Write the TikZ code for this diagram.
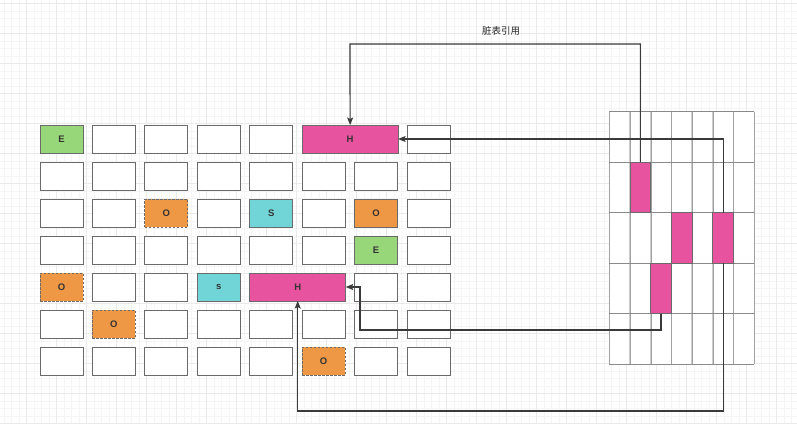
\documentclass[tikz,border=0pt]{standalone}
\usepackage{fontspec}
\setmainfont{Liberation Sans}
\newfontfamily\cjk{Noto Sans CJK SC}
\usetikzlibrary{arrows.meta}
\definecolor{gridminor}{HTML}{F5F5F5}
\definecolor{gridmajor}{HTML}{EAEAEA}
\definecolor{cellborder}{HTML}{6A6A6A}
\definecolor{cgreen}{HTML}{97D77A}
\definecolor{corange}{HTML}{EE9845}
\definecolor{ccyan}{HTML}{71D5D7}
\definecolor{cpink}{HTML}{E853A0}
\definecolor{connc}{HTML}{3A3A3A}
\definecolor{vline}{HTML}{CCCCCC}
\definecolor{hline}{HTML}{8A8A8A}
\tikzset{
  cellbox/.style={draw=cellborder, line width=1pt, fill=white, anchor=north west,
    minimum width=43pt, minimum height=28pt, inner sep=0pt, outer sep=0pt,
    font=\fontsize{9.5}{10}\selectfont\bfseries, text=black!80},
  widebox/.style={cellbox, minimum width=96pt},
  green/.style={fill=cgreen},
  orange/.style={fill=corange},
  cyan/.style={fill=ccyan},
  pink/.style={fill=cpink},
  dsh/.style={dashed, dash pattern=on 2.5pt off 1.5pt},
  cardcell/.style={draw=cellborder, line width=0.9pt, fill=cpink, anchor=north west,
    minimum width=20.7pt, minimum height=50.5pt, inner sep=0pt, outer sep=0pt},
  conn/.style={draw=connc, line width=1.2pt, -{Stealth[length=7.5pt,width=6pt,inset=1.5pt]}},
}
\begin{document}
\begin{tikzpicture}[x=1pt,y=-1pt]
\useasboundingbox (0,0) rectangle (797,423);
\fill[white] (0,0) rectangle (797,423);
% background grid
\foreach \i in {0,...,106} {
  \draw[gridminor, line width=0.6pt] ({4.2+7.5*\i},0) -- ({4.2+7.5*\i},423);
}
\foreach \j in {0,...,56} {
  \draw[gridminor, line width=0.6pt] (0,{3.5+7.5*\j}) -- (797,{3.5+7.5*\j});
}
\foreach \i in {0,...,26} {
  \draw[gridmajor, line width=0.7pt] ({26.7+30*\i},0) -- ({26.7+30*\i},423);
}
\foreach \j in {0,...,14} {
  \draw[gridmajor, line width=0.7pt] (0,{3.5+30*\j}) -- (797,{3.5+30*\j});
}

% left grid of cells
\def\cx#1{{40+52.43*(#1)}}
\def\ry#1{{125+37*(#1)}}
% row 1
\node[cellbox,green] (c11) at (\cx{0},\ry{0}) {E};
\node[cellbox] (c12) at (\cx{1},\ry{0}) {};
\node[cellbox] (c13) at (\cx{2},\ry{0}) {};
\node[cellbox] (c14) at (\cx{3},\ry{0}) {};
\node[cellbox] (c15) at (\cx{4},\ry{0}) {};
\node[widebox,pink] (H1) at (\cx{5},\ry{0}) {H};
\node[cellbox] (c18) at (\cx{7},\ry{0}) {};
% row 2
\foreach \c in {0,...,7} { \node[cellbox] (c2\c) at (\cx{\c},\ry{1}) {}; }
% row 3
\node[cellbox] (c31) at (\cx{0},\ry{2}) {};
\node[cellbox] (c32) at (\cx{1},\ry{2}) {};
\node[cellbox,orange,dsh] (c33) at (\cx{2},\ry{2}) {O};
\node[cellbox] (c34) at (\cx{3},\ry{2}) {};
\node[cellbox,cyan] (c35) at (\cx{4},\ry{2}) {S};
\node[cellbox] (c36) at (\cx{5},\ry{2}) {};
\node[cellbox,orange] (c37) at (\cx{6},\ry{2}) {O};
\node[cellbox] (c38) at (\cx{7},\ry{2}) {};
% row 4
\foreach \c in {0,...,5} { \node[cellbox] (c4\c) at (\cx{\c},\ry{3}) {}; }
\node[cellbox,green] (c47) at (\cx{6},\ry{3}) {E};
\node[cellbox] (c48) at (\cx{7},\ry{3}) {};
% row 5
\node[cellbox,orange,dsh] (c51) at (\cx{0},\ry{4}) {O};
\node[cellbox] (c52) at (\cx{1},\ry{4}) {};
\node[cellbox] (c53) at (\cx{2},\ry{4}) {};
\node[cellbox,cyan] (c54) at (\cx{3},\ry{4}) {s};
\node[widebox,pink] (H5) at (\cx{4},\ry{4}) {H};
\node[cellbox] (c57) at (\cx{6},\ry{4}) {};
\node[cellbox] (c58) at (\cx{7},\ry{4}) {};
% row 6
\node[cellbox] (c61) at (\cx{0},\ry{5}) {};
\node[cellbox,orange,dsh] (c62) at (\cx{1},\ry{5}) {O};
\foreach \c in {2,...,7} { \node[cellbox] (c6\c) at (\cx{\c},\ry{5}) {}; }
% row 7
\foreach \c in {0,...,4} { \node[cellbox] (c7\c) at (\cx{\c},\ry{6}) {}; }
\node[cellbox,orange,dsh] (c76) at (\cx{5},\ry{6}) {O};
\node[cellbox] (c77) at (\cx{6},\ry{6}) {};
\node[cellbox] (c78) at (\cx{7},\ry{6}) {};

% card table
\def\kx#1{{609.3+20.71*(#1)}}
\def\ky#1{{111.7+50.52*(#1)}}
\fill[white] (\kx{0},\ky{0}) rectangle (\kx{7},\ky{5});
\foreach \i in {0,...,7} { \draw[vline, line width=1.4pt] (\kx{\i},\ky{0}) -- (\kx{\i},\ky{5}); }
\foreach \i in {0,...,7} { \draw[hline!80, line width=0.4pt] (\kx{\i},\ky{0}) -- (\kx{\i},\ky{5}); }
\foreach \j in {0,...,5} { \draw[hline, line width=0.9pt] (\kx{0},\ky{\j}) -- (\kx{7},\ky{\j}); }
\node[cardcell] (p1) at (\kx{1},\ky{1}) {};
\node[cardcell] (p2) at (\kx{3},\ky{2}) {};
\node[cardcell] (p4) at (\kx{5},\ky{2}) {};
\node[cardcell] (p3) at (\kx{2},\ky{3}) {};

% connectors
\coordinate (t1) at (350,44);
\coordinate (yb) at (0,411);
\coordinate (k1) at (360,330);
\draw[conn] (p1.north) |- (t1) -- (H1.north);
\node[font=\cjk\fontsize{9.5}{10}\selectfont, text=black!85] (lbl) at (501,31) {脏表引用};
\draw[conn] (p4.north) |- (H1.east);
\draw[conn] (p4.south) -- (p4.south |- yb) -| (H5.south);
\draw[conn] (p3.south) |- (k1) |- (H5.east);
\end{tikzpicture}
\end{document}
